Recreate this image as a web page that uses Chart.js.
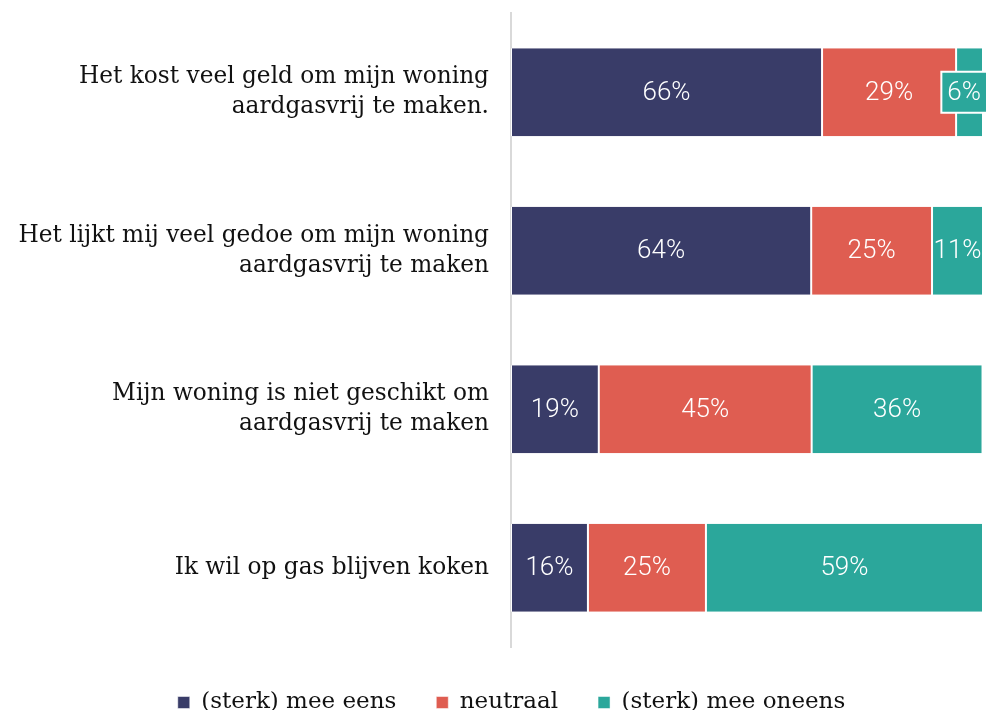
<!DOCTYPE html>
<html><head><meta charset="utf-8">
<script src="https://cdn.jsdelivr.net/npm/chart.js@4.4.1/dist/chart.umd.min.js"></script>
<style>
html,body{margin:0;padding:0;background:#fff;overflow:hidden;}
#wrap{position:relative;width:993px;height:720px;}
</style></head>
<body>
<div id="wrap"><canvas id="c"></canvas></div>
<script>
const categories = [
  ["Het kost veel geld om mijn woning", "aardgasvrij te maken."],
  ["Het lijkt mij veel gedoe om mijn woning", "aardgasvrij te maken"],
  ["Mijn woning is niet geschikt om", "aardgasvrij te maken"],
  ["Ik wil op gas blijven koken"]
];
const seriesNames = ["(sterk) mee eens", "neutraal", "(sterk) mee oneens"];
const eens    = [65.9, 63.6, 18.6, 16.3];
const neutraal = [28.4, 25.6, 45.1, 25.0];
const oneens  = [5.7, 10.8, 36.2, 58.7];
const labelsEens    = ["66%", "64%", "19%", "16%"];
const labelsNeutraal = ["29%", "25%", "45%", "25%"];
const labelsOneens  = ["6%", "11%", "36%", "59%"];
const colors = ["#393c68", "#df5d51", "#2ba79b"];

const serif = "'DejaVu Serif', 'Liberation Serif', serif";

const labelPlugin = {
  id: 'barLabels',
  afterLayout(chart) {
    const lg = chart.legend;
    if (lg) { lg.left += 20; lg.right += 20; lg.top += 4; lg.bottom += 4; }
  },
  afterDatasetsDraw(chart) {
    const ctx = chart.ctx;
    ctx.save();
    ctx.font = "300 26px Roboto, 'Noto Sans', sans-serif";
    ctx.textAlign = 'center';
    ctx.textBaseline = 'middle';
    chart.data.datasets.forEach((ds, di) => {
      const meta = chart.getDatasetMeta(di);
      meta.data.forEach((bar, i) => {
        const txt = ds.valueLabels[i];
        const left = Math.min(bar.base, bar.x), right = Math.max(bar.base, bar.x);
        let cx = (left + right) / 2;
        const cy = bar.y;
        const tw = ctx.measureText(txt).width;
        if (tw > right - left + 2) {
          const bw = tw + 12, bh = 41;
          cx = Math.min(cx, chart.width - 6 - bw / 2);
          ctx.fillStyle = ds.backgroundColor;
          ctx.strokeStyle = '#ffffff';
          ctx.lineWidth = 2;
          ctx.fillRect(cx - bw / 2, cy - bh / 2, bw, bh);
          ctx.strokeRect(cx - bw / 2, cy - bh / 2, bw, bh);
        }
        ctx.fillStyle = '#ffffff';
        ctx.fillText(txt, cx, cy + 1);
      });
    });
    ctx.restore();
  }
};

const mk = (name, data, lbls, color) => ({
  label: name, data: data, valueLabels: lbls,
  backgroundColor: color, borderColor: '#ffffff',
  borderWidth: {left: 1, right: 1, top: 0, bottom: 0}, borderSkipped: false,
  barPercentage: 0.554, categoryPercentage: 1.0
});

new Chart(document.getElementById('c'), {
  type: 'bar',
  data: {
    labels: categories,
    datasets: [
      mk(seriesNames[0], eens, labelsEens, colors[0]),
      mk(seriesNames[1], neutraal, labelsNeutraal, colors[1]),
      mk(seriesNames[2], oneens, labelsOneens, colors[2])
    ]
  },
  options: {
    indexAxis: 'y',
    responsive: true,
    maintainAspectRatio: false,
    animation: false,
    layout: {padding: {top: 13, right: 10, left: 0, bottom: 0}},
    scales: {
      x: {stacked: true, min: 0, max: 100, display: false},
      y: {
        stacked: true,
        grid: {display: false, drawTicks: false},
        border: {display: true, color: '#d9d9d9', width: 2},
        ticks: {
          color: '#111111', padding: 22,
          font: {family: serif, size: 23.25, lineHeight: 1.3}
        },
        afterFit(scale) { scale.paddingTop = 0; scale.paddingBottom = 0; scale.width = 511; }
      }
    },
    plugins: {
      legend: {
        position: 'bottom',
        labels: {
          boxWidth: 12, boxHeight: 12, padding: 40, color: '#111111',
          font: {family: serif, size: 23}
        }
      },
      tooltip: {enabled: false}
    }
  },
  plugins: [labelPlugin]
});
</script>
</body></html>
